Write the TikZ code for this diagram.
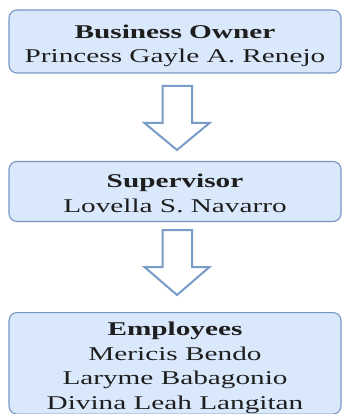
\documentclass[tikz,border=0pt]{standalone}
\usepackage{fontspec}
\setmainfont{Liberation Serif}[FakeStretch=1.5]
\definecolor{boxfill}{RGB}{218,232,252}
\definecolor{boxline}{RGB}{120,150,195}
\definecolor{arrowline}{RGB}{120,155,200}
\definecolor{textcol}{RGB}{30,30,30}
\newcommand{\topstrut}[1]{\rule{0pt}{#1}}
\begin{document}
\begin{tikzpicture}[x=1pt,y=-1pt,
  box/.style={draw=boxline, fill=boxfill, rounded corners=8pt, line width=1.1pt,
    minimum width=332pt, align=center, inner sep=0pt, text=textcol,
    font=\fontsize{19.5}{24.5}\selectfont},
  blockarrow/.style={draw=arrowline, fill=white, line width=2pt, line join=miter}]
\useasboundingbox (0,0) rectangle (342,414);
\node[box, minimum height=63pt] (owner) at (175,41.5) {\topstrut{22pt}\textbf{Business Owner}\\Princess Gayle A. Renejo};
\node[box, minimum height=60pt] (sup) at (175,191.5) {\topstrut{17.5pt}\textbf{Supervisor}\\Lovella S. Navarro};
\node[box, minimum height=101.5pt, anchor=north] (emp) at (175,312) {\topstrut{23pt}\textbf{Employees}\\Mericis Bendo\\Laryme Babagonio\\Divina Leah Langitan};
\draw[blockarrow] (162.5,86) -- (192,86) -- (192,123) -- (209.5,123) -- (177,150) -- (144.5,123) -- (162.5,123) -- cycle;
\draw[blockarrow] (162.5,230) -- (192,230) -- (192,267) -- (209.5,267) -- (177,295) -- (144.5,267) -- (162.5,267) -- cycle;
\end{tikzpicture}
\end{document}
